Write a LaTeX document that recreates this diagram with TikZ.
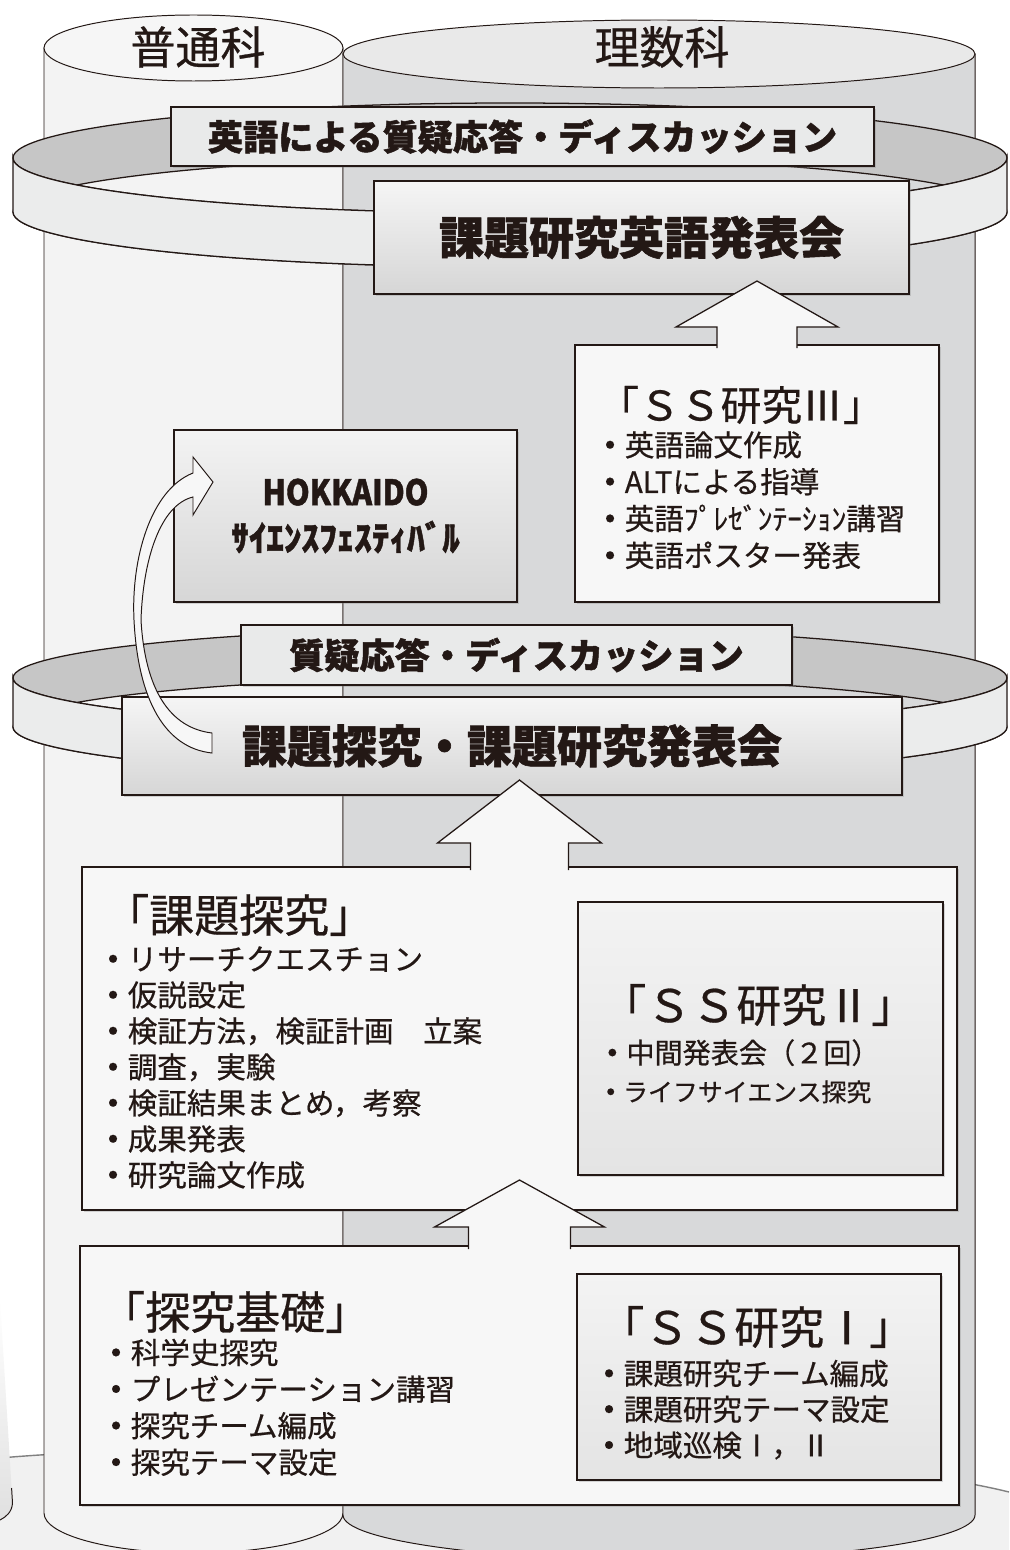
\documentclass[tikz,border=0pt]{standalone}
\usepackage{fontspec}
\usepackage{tikz}
\usetikzlibrary{calc}
\usetikzlibrary{positioning}
\usetikzlibrary{shadows}

\newfontfamily\jp[BoldFeatures={FakeBold=1.3}]{Noto Sans CJK JP}
\newfontfamily\jpm[FakeBold=0.6]{Noto Sans CJK JP}
\newdimen\pxu \pxu=0.025cm
\newcommand\dotmark{\makebox[1em][c]{\raisebox{0.27em}{\scalebox{0.3}{●}}}}

\definecolor{ink}{HTML}{231815}
\definecolor{leftcol}{HTML}{F3F3F3}
\definecolor{lefttop}{HTML}{F6F6F6}
\definecolor{rightcol}{HTML}{D8D9DA}
\definecolor{righttop}{HTML}{E9E9E9}
\definecolor{ringback}{HTML}{C6C6C6}
\definecolor{ringfront}{HTML}{EBECEC}
\definecolor{tagfill}{HTML}{E9EAEA}
\definecolor{paper}{HTML}{F7F7F7}
\definecolor{basefill}{HTML}{F1F1F1}
\definecolor{shadetop}{HTML}{F5F5F5}
\definecolor{shadebot}{HTML}{D6D6D6}
\definecolor{subtop}{HTML}{F3F3F3}
\definecolor{subbot}{HTML}{E4E4E4}

\tikzset{
  outline/.style={draw=ink, line width=0.7pt},
  ring/.style={draw=ink, line width=0.9pt},
  softshadow/.style={drop shadow={shadow xshift=1.5pt, shadow yshift=-1.5pt, opacity=.3}},
  tagbox/.style={draw=ink, line width=1.1pt, fill=tagfill, inner sep=0pt, outer sep=0pt,
    anchor=north west, text=ink, softshadow, font=\jp\bfseries\fontsize{25}{30}\selectfont},
  titlebox/.style={draw=ink, line width=1.1pt, top color=shadetop, bottom color=shadebot,
    inner sep=0pt, outer sep=0pt, anchor=north west, text=ink, softshadow},
  listbox/.style={draw=ink, line width=1.1pt, fill=paper, inner sep=0pt, outer sep=0pt,
    anchor=north west, softshadow},
  subbox/.style={draw=ink, line width=1.1pt, top color=subtop, bottom color=subbot,
    inner sep=0pt, outer sep=0pt, anchor=north west, softshadow},
  collabel/.style={inner sep=0pt, text=ink, font=\jpm\fontsize{32}{38}\selectfont},
  boxtitle/.style={inner sep=0pt, anchor=west, text=ink, font=\jpm\fontsize{32}{38}\selectfont},
  boxlist/.style={inner sep=0pt, anchor=north west, align=left, text=ink},
  blockarrow/.style={draw=ink, line width=0.9pt, fill=paper},
  curvearrow/.style={draw=ink, line width=0.7pt, fill=paper},
}

\begin{document}
\begin{tikzpicture}[x=0.025cm, y=-0.025cm]
\useasboundingbox (0,0) rectangle (1009,1550);
\fill[white] (0,0) rectangle (1009,1550);

% base under the columns
\fill[basefill] (0,1458) .. controls (200,1440) and (800,1440) .. (1009,1492) -- (1009,1550) -- (0,1550) -- cycle;
\draw[gray, line width=1pt] (0,1458) .. controls (200,1440) and (800,1440) .. (1009,1492);
\shade[top color=white, bottom color=black!12] (0,1300) -- (12.5,1503) .. controls (12,1512) and (6,1517) .. (0,1520) -- cycle;
\draw[outline] (11.6,1488) -- (12.5,1503) .. controls (12,1512) and (6,1517) .. (0,1520);

% columns
\filldraw[outline, fill=leftcol] (44,48) -- (44,1513) arc [start angle=180, end angle=0, x radius=149.5, y radius=40] -- (343,48) -- cycle;
\filldraw[outline, fill=rightcol] (343,54) -- (343,1515) arc [start angle=180, end angle=0, x radius=316, y radius=45] -- (975,54) -- cycle;
\filldraw[outline, fill=lefttop] (193.5,48) ellipse [x radius=149.5, y radius=33];
\filldraw[outline, fill=righttop] (659,54) ellipse [x radius=316, y radius=34];
\node[collabel] (futsuu) at (198,47) {普通科};
\node[collabel] (risuu) at (662,47) {理数科};

% upper ring
\filldraw[ring, fill=ringback, even odd rule] (510,158) ellipse [x radius=497, y radius=55] (510,212) ellipse [x radius=497, y radius=55];
\filldraw[ring, fill=ringfront] (13,158) -- (13,212) arc [start angle=180, end angle=0, x radius=497, y radius=55] -- (1007,158) arc [start angle=0, end angle=180, x radius=497, y radius=55] -- cycle;

\node[tagbox, minimum width=703\pxu, minimum height=59\pxu] (engqa) at (171,107) {英語による質疑応答・ディスカッション};
\node[titlebox, minimum width=535\pxu, minimum height=113\pxu, font=\jp\bfseries\fontsize{32}{38}\selectfont] (engpres) at (374,181) {課題研究英語発表会};

% SS III
\node[listbox, minimum width=364\pxu, minimum height=257\pxu] (ss3) at (575,345) {};
\node[boxtitle, font=\jpm\fontsize{29}{34}\selectfont] (ss3title) at ($(ss3.north west)+(23,60)$) {「ＳＳ研究Ⅲ」};
\node[boxlist, font=\jpm\fontsize{21}{26.2}\selectfont] (ss3list) at ($(ss3.north west)+(20,86)$)
  {\dotmark 英語論文作成\\\dotmark ALTによる指導\\\dotmark 英語ﾌﾟﾚｾﾞﾝﾃｰｼｮﾝ講習\\\dotmark 英語ポスター発表};
\draw[blockarrow] ($(ss3.north)+(-40,3)$) -- ++(0,-21) -- ++(-41,0) -- ++(81,-46) -- ++(81,46) -- ++(-41,0) -- ++(0,21);

% festival
\node[titlebox, minimum width=343\pxu, minimum height=172\pxu, align=center,
  top color=subtop, bottom color=black!16, font=\jp\bfseries\fontsize{25}{32.6}\selectfont] (hokkaido) at (174,430)
  {\scalebox{0.86}[1]{HOKKAIDO}\\ｻｲｴﾝｽﾌｪｽﾃｨﾊﾞﾙ};

% lower ring
\filldraw[ring, fill=ringback, even odd rule] (510,678) ellipse [x radius=497, y radius=50] (510,727) ellipse [x radius=497, y radius=50];
\filldraw[ring, fill=ringfront] (13,678) -- (13,727) arc [start angle=180, end angle=0, x radius=497, y radius=50] -- (1007,678) arc [start angle=0, end angle=180, x radius=497, y radius=50] -- cycle;

\node[tagbox, minimum width=551\pxu, minimum height=60\pxu] (qa) at (241,625) {質疑応答・ディスカッション};
\node[titlebox, minimum width=780\pxu, minimum height=98\pxu, font=\jp\bfseries\fontsize{32}{38}\selectfont] (present) at (122,697) {課題探究・課題研究発表会};

% arrow to the festival
\coordinate (festtail) at ($(present.west)+(90,-3)$);
\coordinate (festtip) at ($(hokkaido.west)+(39,-34)$);
\draw[curvearrow] ($(festtail)+(0,10)$) .. controls (165,748) and (138,700) .. (134,620)
  .. controls (131,560) and (150,490) .. ($(festtip)+(-20,-9)$)
  -- ++(0,-16) -- (festtip) -- ($(festtip)+(-20,33)$) -- ++(0,-18)
  .. controls (160,505) and (143,560) .. (141,620)
  .. controls (145,690) and (170,728) .. ($(festtail)+(0,-10)$) -- cycle;

% kadai tankyu
\node[listbox, minimum width=875\pxu, minimum height=343\pxu] (kadai) at (82,867) {};
\node[boxtitle] (kadaititle) at ($(kadai.north west)+(22,48)$) {「課題探究」};
\node[boxlist, font=\jpm\fontsize{21}{25.6}\selectfont] (kadailist) at ($(kadai.north west)+(16,79)$)
  {\dotmark リサーチクエスチョン\\\dotmark 仮説設定\\\dotmark 検証方法，検証計画　立案\\\dotmark 調査，実験\\\dotmark 検証結果まとめ，考察\\\dotmark 成果発表\\\dotmark 研究論文作成};
\node[subbox, minimum width=365\pxu, minimum height=273\pxu] (ss2) at (578,902) {};
\node[boxtitle] (ss2title) at ($(ss2.north west)+(23,103)$) {「ＳＳ研究Ⅱ」};
\node[boxlist, font=\jpm\fontsize{20}{27}\selectfont] (ss2list) at ($(ss2.north west)+(20,137)$)
  {\dotmark 中間発表会（２回）\\{\fontsize{17.7}{27}\selectfont \dotmark ライフサイエンス探究}};
\draw[blockarrow] ($(kadai.north)+(-49,3)$) -- ++(0,-27) -- ++(-33,0) -- ++(82,-63) -- ++(82,63) -- ++(-33,0) -- ++(0,27);

% tankyu kiso
\node[listbox, minimum width=879\pxu, minimum height=259\pxu] (kiso) at (80,1246) {};
\node[boxtitle] (kisotitle) at ($(kiso.north west)+(20,66)$) {「探究基礎」};
\node[boxlist, font=\jpm\fontsize{21}{26}\selectfont] (kisolist) at ($(kiso.north west)+(21,92.5)$)
  {\dotmark 科学史探究\\\dotmark プレゼンテーション講習\\\dotmark 探究チーム編成\\\dotmark 探究テーマ設定};
\node[subbox, minimum width=364\pxu, minimum height=206\pxu] (ss1) at (577,1274) {};
\node[boxtitle] (ss1title) at ($(ss1.north west)+(22,53)$) {「ＳＳ研究Ⅰ」};
\node[boxlist, font=\jpm\fontsize{21}{25.5}\selectfont] (ss1list) at ($(ss1.north west)+(17,85.5)$)
  {\dotmark 課題研究チーム編成\\\dotmark 課題研究テーマ設定\\\dotmark 地域巡検Ⅰ，Ⅱ};
\draw[blockarrow] ($(kiso.north)+(-51,3)$) -- ++(0,-22) -- ++(-34,0) -- ++(85,-47) -- ++(85,47) -- ++(-34,0) -- ++(0,22);
\end{tikzpicture}
\end{document}
